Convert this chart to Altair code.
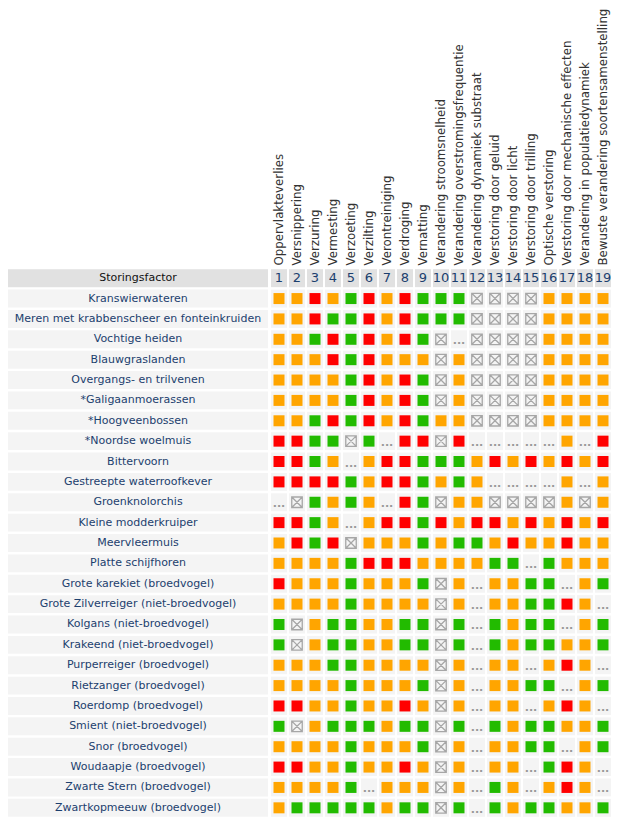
import altair as alt
import pandas as pd

header_label = "Storingsfactor"

row_labels = [
    "Kranswierwateren",
    "Meren met krabbenscheer en fonteinkruiden",
    "Vochtige heiden",
    "Blauwgraslanden",
    "Overgangs- en trilvenen",
    "*Galigaanmoerassen",
    "*Hoogveenbossen",
    "*Noordse woelmuis",
    "Bittervoorn",
    "Gestreepte waterroofkever",
    "Groenknolorchis",
    "Kleine modderkruiper",
    "Meervleermuis",
    "Platte schijfhoren",
    "Grote karekiet (broedvogel)",
    "Grote Zilverreiger (niet-broedvogel)",
    "Kolgans (niet-broedvogel)",
    "Krakeend (niet-broedvogel)",
    "Purperreiger (broedvogel)",
    "Rietzanger (broedvogel)",
    "Roerdomp (broedvogel)",
    "Smient (niet-broedvogel)",
    "Snor (broedvogel)",
    "Woudaapje (broedvogel)",
    "Zwarte Stern (broedvogel)",
    "Zwartkopmeeuw (broedvogel)",
]

column_names = [
    "Oppervlakteverlies",
    "Versnippering",
    "Verzuring",
    "Vermesting",
    "Verzoeting",
    "Verzilting",
    "Verontreiniging",
    "Verdroging",
    "Vernatting",
    "Verandering stroomsnelheid",
    "Verandering overstromingsfrequentie",
    "Verandering dynamiek substraat",
    "Verstoring door geluid",
    "Verstoring door licht",
    "Verstoring door trilling",
    "Optische verstoring",
    "Verstoring door mechanische effecten",
    "Verandering in populatiedynamiek",
    "Bewuste verandering soortensamenstelling",
]

column_numbers = ["1", "2", "3", "4", "5", "6", "7", "8", "9", "10",
                  "11", "12", "13", "14", "15", "16", "17", "18", "19"]

# O = oranje, R = rood, G = groen, X = niet van toepassing, D = onbekend (...)
status_rows = [
    "OOROGRORGGGXXXXOOOO",
    "OORGGRORGGGXXXXOOOO",
    "OOGRGRORGXDXXXXOOOO",
    "OOORGROOOXOXXXXOOOO",
    "OOOOGRORGXOXXXXOOOO",
    "OOOOGRORGXOXXXXOOOO",
    "OOGRGRORGOOXXXXOOOO",
    "RRGGXGDRRXRDDDDDODR",
    "RRGODORRGGGOROROROR",
    "RRRRGORRGOGODDDDODO",
    "DXGOGODRGXOOXXXXOXO",
    "RRGODORRGRORROROROR",
    "ORGRXOOOGOGGOROOROO",
    "OOOOGRRROOOOGGDGOOO",
    "ROOOGOOOGXODOOGGDOG",
    "OOOOGOOOOXODOOGGROD",
    "GXOGGOOGGXGDGOGGDOG",
    "GXOGGOOGGXGDGOGGOOG",
    "OOOGGOOOOXODOODOROD",
    "OOOOGOOOGXODOOGGDOG",
    "RROOGOOROXODOODOROD",
    "GXOGGGOGGXGDGOGGOOG",
    "OOOOGOOOGXODOOGGDOG",
    "RROOGOOROXODOODGROD",
    "OOOOGDOOOXODGODOROD",
    "OGGGGGOGGXGDGOGGOOG",
]

status_codes = ["O", "R", "G"]
status_colors = ["#FFA500", "#FF0000", "#22BB00"]

FONT = "DejaVu Sans"
row_domain = [header_label] + row_labels

# ---- tables built from the arrays ----
cells = pd.DataFrame(
    [
        {"row": r, "col": c, "code": s[j]}
        for r, s in zip(row_labels, status_rows)
        for j, c in enumerate(column_names)
    ]
)
head = pd.DataFrame({"row": header_label, "col": column_names, "num": column_numbers})
left_df = pd.DataFrame({"row": row_domain, "panel": "label",
                        "kind": ["header"] + ["cell"] * len(row_labels)})

y_enc = alt.Y("row:N", sort=row_domain,
              scale=alt.Scale(domain=row_domain, paddingInner=0.12, paddingOuter=0.06),
              axis=None)
x_enc = alt.X("col:N", sort=column_names,
              scale=alt.Scale(domain=column_names, paddingInner=0.11, paddingOuter=0.055),
              axis=alt.Axis(orient="top", title=None, labelAngle=-90, labelAlign="left",
                            labelBaseline="middle", labelPadding=3, labelLimit=400,
                            ticks=False, domain=False, labelFont=FONT, labelFontSize=11.8,
                            labelColor="#333333"))

# ---- left panel: row labels ----
lx = alt.X("panel:N", scale=alt.Scale(paddingInner=0, paddingOuter=0), axis=None)
left_bg_head = alt.Chart(left_df).transform_filter("datum.kind == 'header'").mark_rect(
    color="#E1E1E1").encode(x=lx, y=y_enc)
left_bg = alt.Chart(left_df).transform_filter("datum.kind == 'cell'").mark_rect(
    color="#F4F4F4").encode(x=lx, y=y_enc)
left_head_txt = alt.Chart(left_df).transform_filter("datum.kind == 'header'").mark_text(
    font=FONT, fontSize=11, color="#111111").encode(x=lx, y=y_enc, text="row:N")
left_txt = alt.Chart(left_df).transform_filter("datum.kind == 'cell'").mark_text(
    font=FONT, fontSize=11, color="#1C3F6E").encode(x=lx, y=y_enc, text="row:N")
left = alt.layer(left_bg_head, left_bg, left_head_txt, left_txt).properties(width=260, height=550)

# ---- right panel: grid ----
bg_head = alt.Chart(head).mark_rect(color="#E1E1E1").encode(x=x_enc, y=y_enc)
bg_cells = alt.Chart(cells).mark_rect(color="#F4F4F4").encode(x=x_enc, y=y_enc)
nums = alt.Chart(head).mark_text(font=FONT, fontSize=13, color="#1C3F6E").encode(
    x=x_enc, y=y_enc, text="num:N")
squares = alt.Chart(cells).transform_filter(
    alt.FieldOneOfPredicate(field="code", oneOf=status_codes)
).mark_square(size=121, opacity=1).encode(
    x=x_enc, y=y_enc,
    color=alt.Color("code:N", scale=alt.Scale(domain=status_codes, range=status_colors), legend=None),
)
crossed = alt.Chart(cells).transform_filter("datum.code == 'X'").mark_point(
    shape="M-1,-1H1V1H-1Z M-1,-1L1,1 M1,-1L-1,1",
    size=110, filled=False, color="#A6A6A6", strokeWidth=1.3, opacity=1,
).encode(x=x_enc, y=y_enc)
dots = alt.Chart(cells).transform_filter("datum.code == 'D'").mark_text(
    text="...", font=FONT, fontSize=11, fontWeight="bold", color="#999999", dy=2,
).encode(x=x_enc, y=y_enc)

right = alt.layer(bg_head, bg_cells, nums, squares, crossed, dots).properties(width=342, height=550)

chart = alt.hconcat(left, right, spacing=2).properties(
    padding={"left": 0, "top": 0, "right": 0, "bottom": 0},
    background="white",
).configure_view(stroke=None)

chart.save("out.html", embed_options={"renderer": "svg", "actions": False})
